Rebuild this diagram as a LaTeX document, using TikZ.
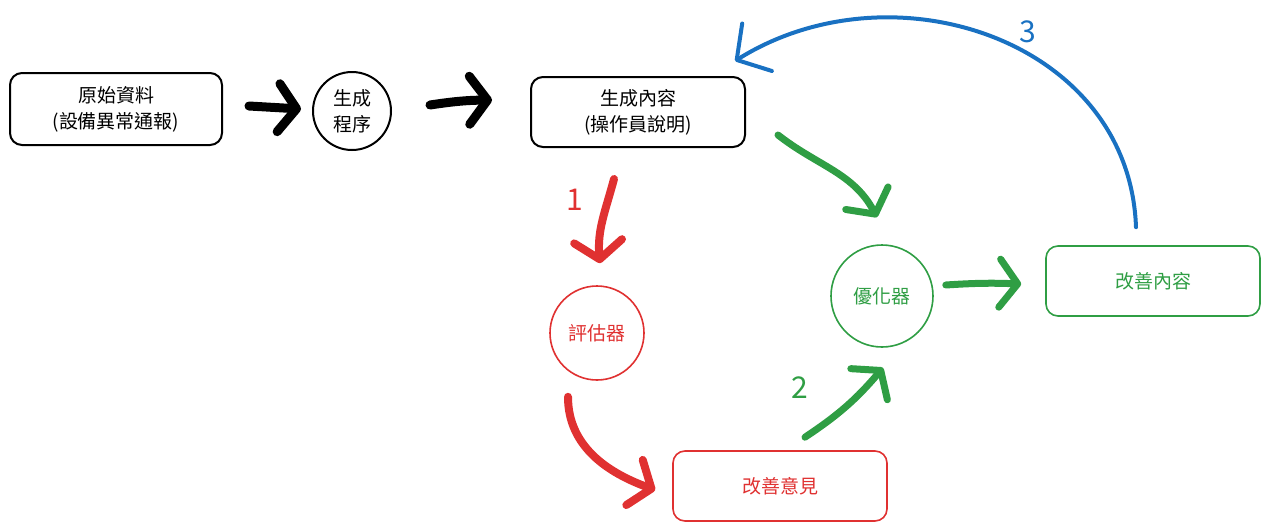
\documentclass[tikz,border=0pt]{standalone}
\usepackage{fontspec}
\setmainfont{Noto Sans CJK TC}
\usetikzlibrary{arrows.meta, positioning}

\definecolor{exred}{HTML}{E03131}
\definecolor{exgreen}{HTML}{2F9E44}
\definecolor{exblue}{HTML}{1971C2}

\begin{document}
\begin{tikzpicture}[
  x=0.5pt, y=-0.5pt,
  flowbox/.style={rectangle, draw=black, line width=1pt, rounded corners=6pt,
    fill=white, minimum width=107pt, minimum height=35pt,
    align=center, font=\fontsize{9.5}{13}\selectfont, inner sep=1pt},
  roundnode/.style={circle, draw=black, line width=1pt, fill=white,
    align=center, font=\fontsize{9.5}{13}\selectfont, inner sep=1pt},
  arr/.style={-{Straight Barb[length=9pt, width=24pt, round]}, line width=4.5pt,
    line cap=round, black},
  redarr/.style={arr, exred, line width=4pt},
  greenarr/.style={arr, exgreen, line width=3.5pt},
  bluearr/.style={-{Straight Barb[length=12pt, width=28pt, round]}, line width=2pt,
    line cap=round, exblue},
  steplbl/.style={font=\fontsize{15}{15}\selectfont},
]
\useasboundingbox (0,0) rectangle (1271,531);

% Generation
\node[flowbox, minimum width=106pt, minimum height=36pt] (src) at (116,109) {原始資料\\(設備異常通報)};
\node[roundnode, minimum size=39pt] (gen) at (352,111) {生成\\程序};
\node[flowbox] (out) at (638,112) {生成內容\\(操作員說明)};

% Evaluation
\node[roundnode, draw=exred, text=exred, line width=0.8pt, minimum size=47pt] (eval) at (597,333) {評估器};
\node[flowbox, draw=exred, text=exred, line width=0.8pt] (adv) at (780,486) {改善意見};

% Optimization
\node[roundnode, draw=exgreen, text=exgreen, line width=0.8pt, minimum size=51pt] (opt) at (882,296) {優化器};
\node[flowbox, draw=exgreen, text=exgreen, line width=0.8pt] (imp) at (1153,281) {改善內容};

% Main flow
\draw[arr] ([shift={(26,-3)}]src.east) -- ([shift={(-11,-2)}]gen.west);
\draw[arr] ([shift={(38,-6)}]gen.east) to[bend left=4] ([shift={(-38,-12)}]out.west);

% Loop 1
\draw[redarr] ([shift={(-24,31)}]out.south) to[out=-105, in=95] ([shift={(3,-22)}]eval.north);
\node[steplbl, text=exred] (n1) at (575,200) {1};
\draw[redarr] ([shift={(-29,16)}]eval.south) to[out=-90, in=160] ([shift={(-17,4)}]adv.west);

% Loop 2
\draw[greenarr] ([shift={(32,23)}]out.east) to[out=-38, in=118] ([shift={(-5,-27)}]opt.north);
\draw[greenarr] ([shift={(25,-13)}]adv.north) to[bend right=8] ([shift={(1,20)}]opt.south);
\node[steplbl, text=exgreen] (n2) at (800,388) {2};
\draw[greenarr] ([shift={(12,-11)}]opt.east) to[bend left=3] ([shift={(-24,3)}]imp.west);

% Loop 3
\draw[bluearr] ([shift={(-17,-18)}]imp.north) to[out=92, in=32, looseness=1.1] ([shift={(97,-15)}]out.north);
\node[steplbl, text=exblue] (n3) at (1028,32) {3};

\end{tikzpicture}
\end{document}
